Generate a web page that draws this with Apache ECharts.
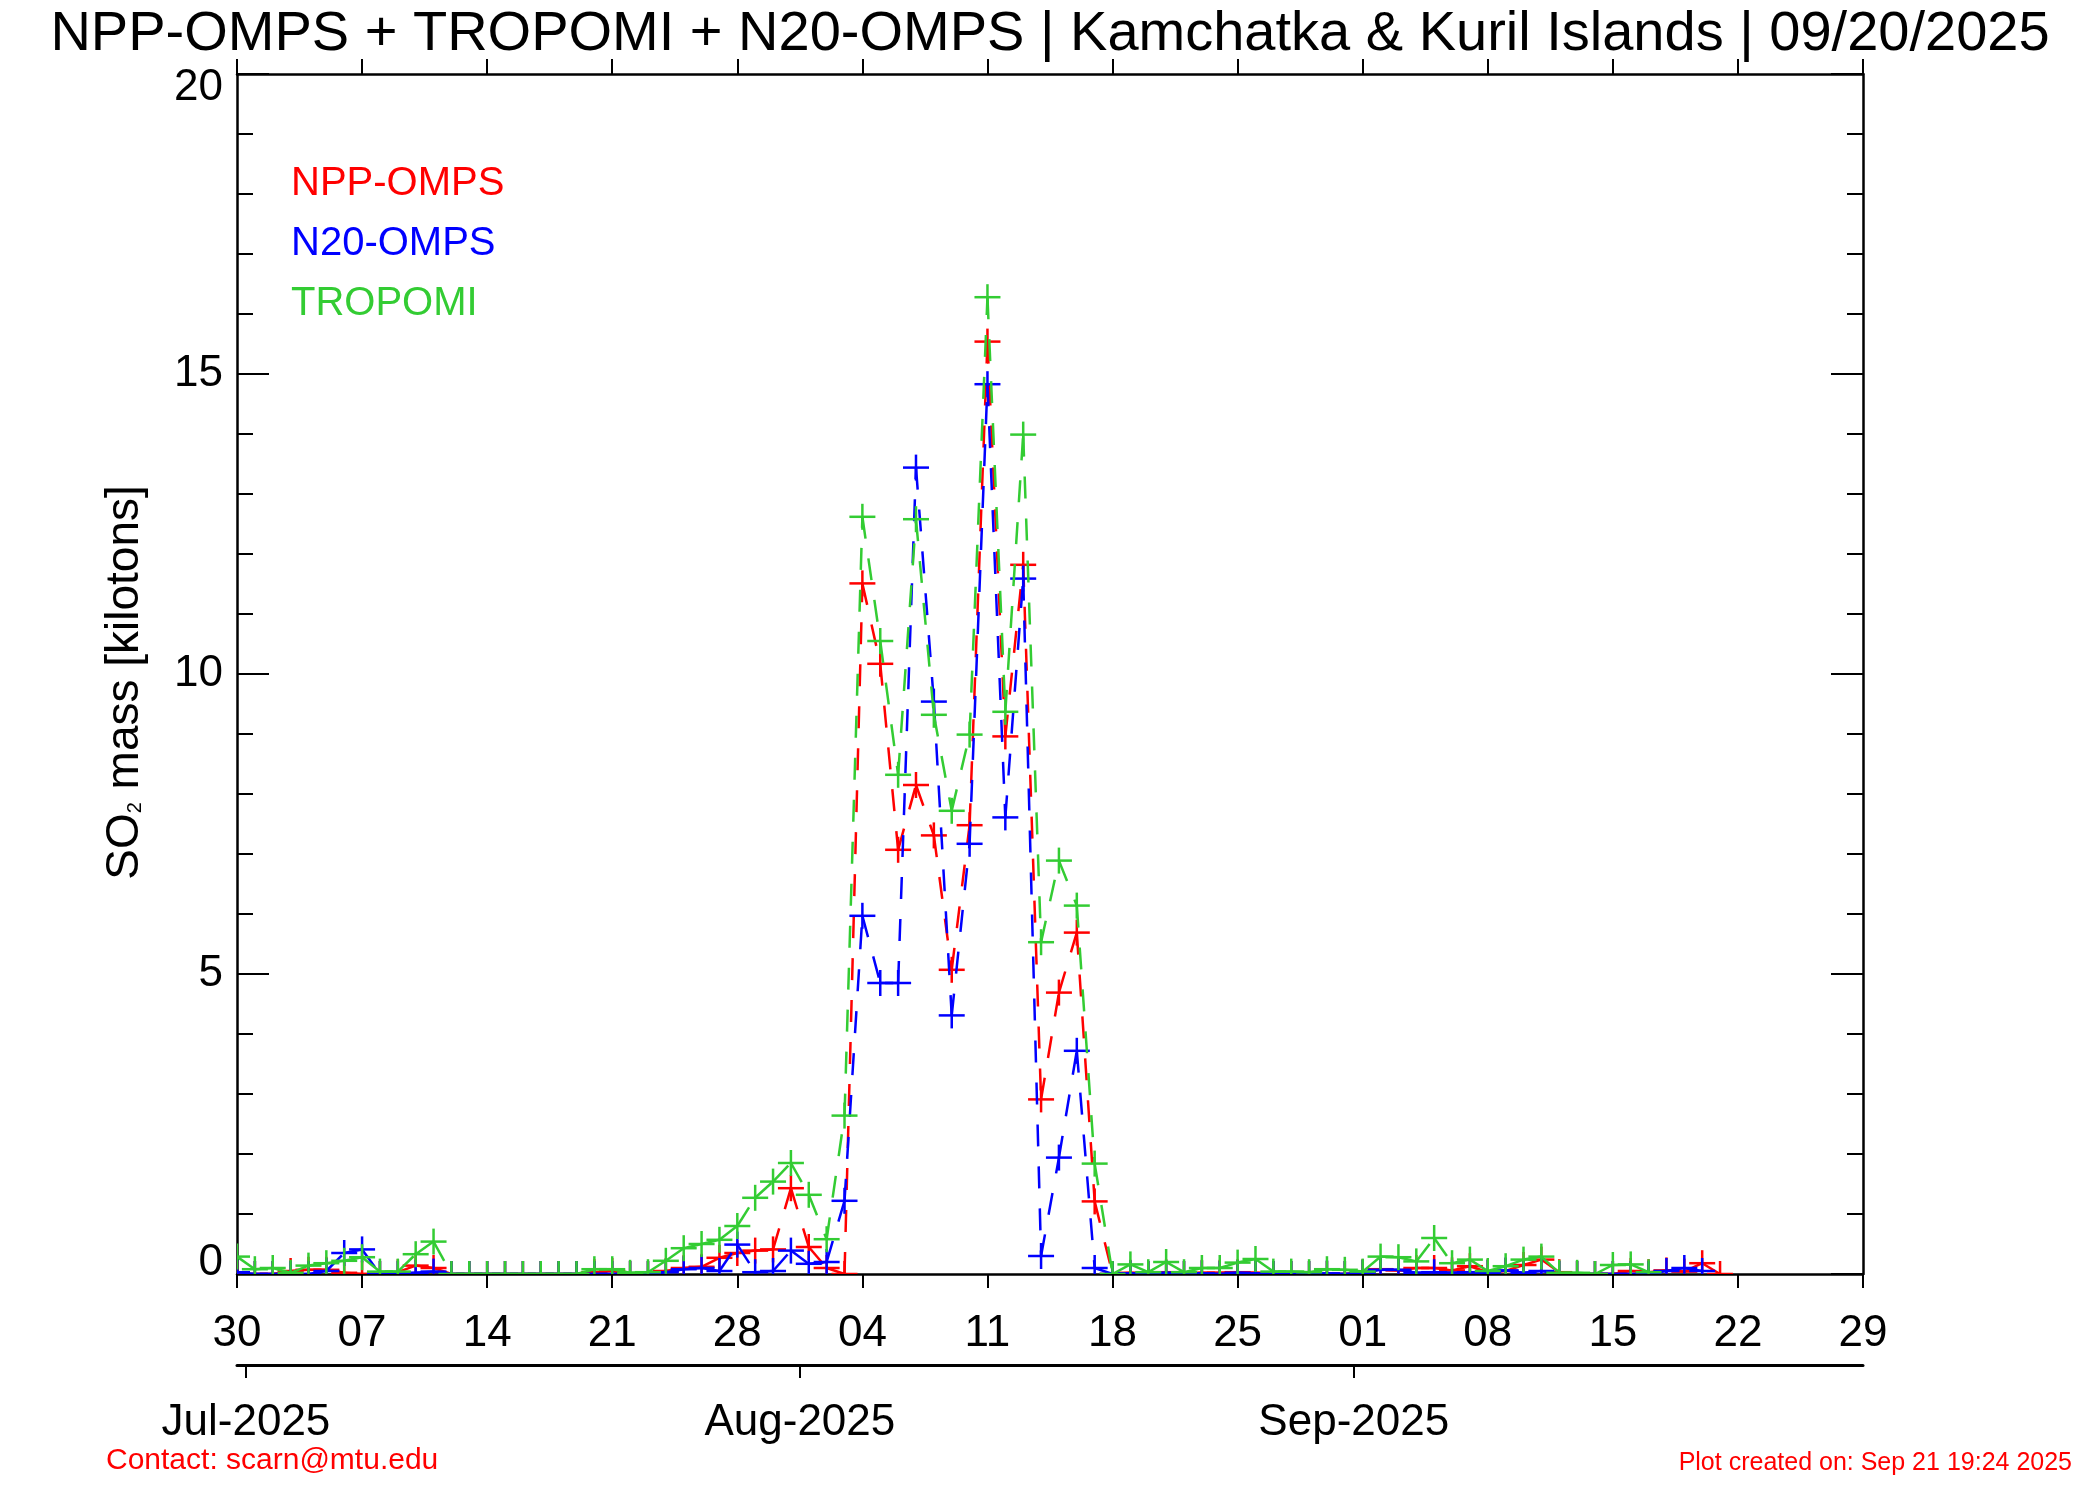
<!DOCTYPE html>
<html>
<head>
<meta charset="utf-8">
<script src="https://cdn.jsdelivr.net/npm/echarts@6/dist/echarts.min.js"></script>
<style>
html,body{margin:0;padding:0;background:#fff;}
#chart{width:2100px;height:1500px;}
</style>
</head>
<body>
<div id="chart"></div>
<script>
// ---------------- data ----------------
const startDate = '2025-06-30';          // day index 0
const titleText = 'NPP-OMPS + TROPOMI + N20-OMPS | Kamchatka & Kuril Islands | 09/20/2025';
const contactText = 'Contact: scarn@mtu.edu';
const createdText = 'Plot created on: Sep 21 19:24 2025';
const seriesNames = ['NPP-OMPS', 'N20-OMPS', 'TROPOMI'];
const tickLabels = ['30','07','14','21','28','04','11','18','25','01','08','15','22','29'];
const monthLabels = ['Jul-2025','Aug-2025','Sep-2025'];
const monthStarts = ['2025-07-01','2025-08-01','2025-09-01'];

// daily SO2 mass [kilotons], one value per day starting at startDate
const nppOmps = [
  0, 0, 0, 0.05, 0.07, 0.07, 0.02, 0, 0, 0.03,
  0.14, 0.10, 0, 0, 0, 0, 0, 0, 0, 0,
  0.03, 0.05, 0, 0, 0.05, 0.10, 0.12, 0.27, 0.35, 0.39,
  0.41, 1.43, 0.45, 0.10, 0, 11.51, 10.17, 7.07, 8.15, 7.31,
  5.07, 7.48, 15.54, 8.96, 11.82, 2.91, 4.69, 5.69, 1.21, 0,
  0.02, 0, 0.03, 0, 0.02, 0.02, 0.03, 0.02, 0, 0,
  0, 0, 0, 0.03, 0.08, 0.06, 0.10, 0.10, 0.06, 0.13,
  0.03, 0.05, 0.15, 0.24, 0.03, 0, 0, 0, 0.05, 0.03,
  0.06, 0.04, 0.18, 0
];
const n20Omps = [
  0.03, 0, 0, 0, 0, 0.05, 0.35, 0.41, 0, 0,
  0.02, 0.04, 0, 0, 0, 0, 0, 0, 0, 0,
  0, 0, 0, 0, 0.03, 0.08, 0.10, 0.05, 0.49, 0.03,
  0.05, 0.39, 0.17, 0.20, 1.22, 5.97, 4.85, 4.85, 13.44, 9.54,
  4.31, 7.17, 14.83, 7.61, 11.59, 0.30, 1.94, 3.72, 0.10, 0,
  0.01, 0, 0.02, 0, 0.01, 0, 0.02, 0.01, 0, 0,
  0, 0.01, 0, 0.02, 0.07, 0.07, 0.02, 0.03, 0.02, 0.03,
  0.02, 0.06, 0.02, 0.05, 0, 0, 0, 0, 0, 0,
  0.05, 0.10, 0.05
];
const tropomi = [
  0.29, 0.08, 0.10, 0.02, 0.14, 0.18, 0.22, 0.28, 0.04, 0.04,
  0.33, 0.54, 0, 0, 0, 0, 0, 0, 0, 0,
  0.08, 0.08, 0.02, 0.03, 0.22, 0.43, 0.50, 0.57, 0.80, 1.27,
  1.54, 1.85, 1.32, 0.58, 2.64, 12.62, 10.55, 8.32, 12.58, 9.32,
  7.72, 8.99, 16.28, 9.37, 13.99, 5.53, 6.89, 6.14, 1.84, 0,
  0.16, 0.03, 0.20, 0.03, 0.10, 0.10, 0.19, 0.25, 0.04, 0.04,
  0.03, 0.08, 0.07, 0.04, 0.29, 0.28, 0.21, 0.60, 0.18, 0.24,
  0.05, 0.13, 0.24, 0.29, 0.02, 0.02, 0, 0.15, 0.16, 0.03
];

// ---------------- styling ----------------
const FONT = '"Liberation Sans", Arial, Helvetica, sans-serif';
const colors = ['#ff0000', '#0000ff', '#33cc33'];
const DAY = 86400000;
const dayIndex = s => Math.round((Date.parse(s) - Date.parse(startDate)) / DAY);
const monthTickPos = monthStarts.map(s => dayIndex(s) - 0.5);
const MARK = 13; // half size of "+" marker in px

function points(arr) { return arr.map((v, i) => [i, v]); }
function segments(arr) {
  const out = [];
  for (let i = 0; i < arr.length - 1; i++) out.push([i, arr[i], i + 1, arr[i + 1]]);
  return out;
}

const allData = [nppOmps, n20Omps, tropomi];
const series = [];
allData.forEach((arr, k) => {
  const c = colors[k];
  // dashed connecting line, dash pattern restarts at every segment
  series.push({
    name: seriesNames[k],
    type: 'custom',
    xAxisIndex: 0, yAxisIndex: 0,
    clip: true,
    z: 2 + k * 2,
    encode: { x: [0, 2], y: [1, 3] },
    data: segments(arr),
    renderItem: function (params, api) {
      const p0 = api.coord([api.value(0), api.value(1)]);
      const p1 = api.coord([api.value(2), api.value(3)]);
      return {
        type: 'line',
        shape: { x1: p0[0], y1: p0[1], x2: p1[0], y2: p1[1] },
        style: { stroke: c, lineWidth: 2.5, lineDash: [22, 20], fill: null }
      };
    },
    silent: true
  });
  // "+" markers, clipped to the plot box
  series.push({
    name: seriesNames[k],
    type: 'custom',
    xAxisIndex: 0, yAxisIndex: 0,
    clip: true,
    z: 3 + k * 2,
    encode: { x: 0, y: 1 },
    data: points(arr),
    renderItem: function (params, api) {
      const p = api.coord([api.value(0), api.value(1)]);
      const st = { stroke: c, lineWidth: 2.5, fill: null };
      return {
        type: 'group',
        children: [
          { type: 'line', shape: { x1: p[0] - MARK, y1: p[1], x2: p[0] + MARK, y2: p[1] }, style: st },
          { type: 'line', shape: { x1: p[0], y1: p[1] - MARK, x2: p[0], y2: p[1] + MARK }, style: st }
        ]
      };
    },
    silent: true
  });
});

const axisLineStyle = { color: '#000', width: 2.5 };
const tickStyle = { color: '#000', width: 2 };

const option = {
  animation: false,
  backgroundColor: '#ffffff',
  textStyle: { fontFamily: FONT },
  title: [
    { text: titleText, left: 'center', top: 7, padding: 0,
      textStyle: { fontSize: 56, lineHeight: 56, fontWeight: 'normal', color: '#000', fontFamily: FONT } },
    { text: contactText, left: 106, top: 1446, padding: 0,
      textStyle: { fontSize: 30, lineHeight: 30, fontWeight: 'normal', color: '#ff0000', fontFamily: FONT } },
    { text: createdText, right: 28, top: 1451, padding: 0,
      textStyle: { fontSize: 25, lineHeight: 25, fontWeight: 'normal', color: '#ff0000', fontFamily: FONT } }
  ],
  legend: {
    orient: 'vertical', left: 286, top: 164, padding: 0, itemGap: 20,
    itemWidth: 0, itemHeight: 0, icon: 'rect', selectedMode: false,
    itemStyle: { opacity: 0 },
    textStyle: { fontSize: 40, lineHeight: 40, fontFamily: FONT },
    data: seriesNames.map((n, k) => ({ name: n, textStyle: { color: colors[k] } }))
  },
  grid: [
    { left: 237, right: 237, top: 74, height: 1200, containLabel: false, outerBoundsMode: 'none' },
    { left: 237, right: 237, top: 1300, height: 65, containLabel: false, outerBoundsMode: 'none' }
  ],
  xAxis: [
    { gridIndex: 0, type: 'value', min: 0, max: 91, interval: 7, position: 'bottom',
      axisLine: { show: true, onZero: false, lineStyle: axisLineStyle },
      axisTick: { show: true, inside: false, length: 14, lineStyle: tickStyle },
      axisLabel: { show: true, margin: 38, fontSize: 44, lineHeight: 44, color: '#000', fontFamily: FONT,
        formatter: v => tickLabels[Math.round(v / 7)] },
      splitLine: { show: false } },
    { gridIndex: 0, type: 'value', min: 0, max: 91, interval: 7, position: 'top',
      axisLine: { show: true, onZero: false, lineStyle: axisLineStyle },
      axisTick: { show: true, inside: false, length: 15, lineStyle: tickStyle },
      axisLabel: { show: false }, splitLine: { show: false } },
    { gridIndex: 1, type: 'value', min: 0, max: 91, position: 'bottom',
      axisLine: { show: true, onZero: false, lineStyle: { color: '#000', width: 3 } },
      axisTick: { show: true, inside: false, length: 13, lineStyle: tickStyle, customValues: monthTickPos },
      axisLabel: { show: true, margin: 36, fontSize: 44, lineHeight: 44, color: '#000', fontFamily: FONT,
        customValues: monthTickPos,
        formatter: v => { const i = monthTickPos.findIndex(p => Math.abs(p - v) < 0.01); return i >= 0 ? monthLabels[i] : ''; } },
      splitLine: { show: false } }
  ],
  yAxis: [
    { gridIndex: 0, type: 'value', min: 0, max: 20, interval: 5, position: 'left',
      name: '{n|SO}{s|2}{n| mass [kilotons]}', nameLocation: 'middle', nameRotate: 90, nameGap: 89,
      nameTextStyle: { fontSize: 46, color: '#000', fontFamily: FONT, padding: [0, 17, 0, 0],
        rich: {
          n: { fontSize: 46, lineHeight: 46, color: '#000', fontFamily: FONT },
          s: { fontSize: 20, lineHeight: 20, color: '#000', fontFamily: FONT, verticalAlign: 'bottom', padding: [0, 0, 3, 0] }
        } },
      axisLine: { show: true, onZero: false, lineStyle: axisLineStyle },
      axisTick: { show: true, inside: true, length: 32, lineStyle: tickStyle },
      minorTick: { show: true, splitNumber: 5, length: 16, lineStyle: tickStyle },
      axisLabel: { show: true, margin: 14, fontSize: 44, color: '#000', fontFamily: FONT,
        formatter: v => v === 0 ? '{lo|0}' : (v === 20 ? '{hi|20}' : String(v)),
        rich: {
          lo: { fontSize: 44, color: '#000', fontFamily: FONT, padding: [0, 0, 22, 0] },
          hi: { fontSize: 44, color: '#000', fontFamily: FONT, padding: [28, 0, 0, 0] }
        } },
      splitLine: { show: false }, minorSplitLine: { show: false } },
    { gridIndex: 0, type: 'value', min: 0, max: 20, interval: 5, position: 'right',
      axisLine: { show: true, onZero: false, lineStyle: axisLineStyle },
      axisTick: { show: true, inside: true, length: 32, lineStyle: tickStyle },
      minorTick: { show: true, splitNumber: 5, length: 16, lineStyle: tickStyle },
      axisLabel: { show: false }, splitLine: { show: false }, minorSplitLine: { show: false } },
    { gridIndex: 1, type: 'value', show: false, min: 0, max: 1 }
  ],
  series: series
};

const chart = echarts.init(document.getElementById('chart'), null, { renderer: 'canvas', width: 2100, height: 1500 });
chart.setOption(option);
</script>
</body>
</html>
